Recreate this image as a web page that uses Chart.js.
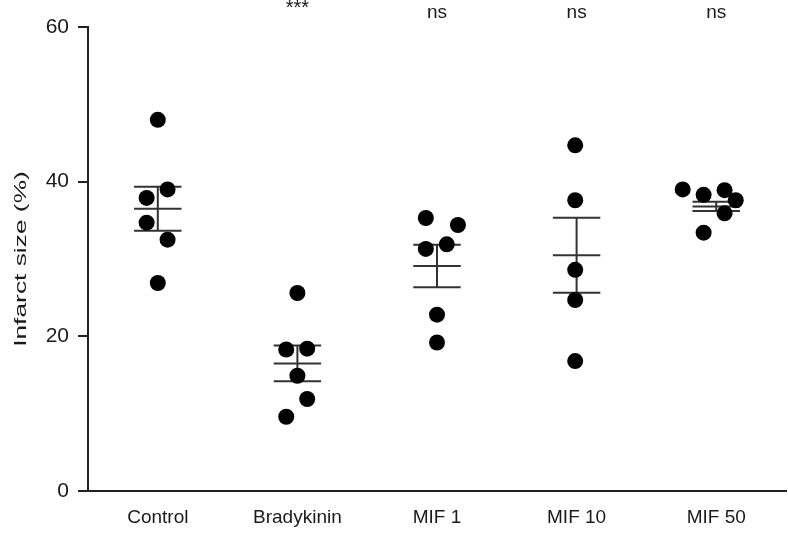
<!DOCTYPE html>
<html>
<head>
<meta charset="utf-8">
<script src="https://cdn.jsdelivr.net/npm/chart.js@4/dist/chart.umd.min.js"></script>
<style>
  html, body { margin: 0; padding: 0; background: #fff; }
  #c { display: block; }
</style>
</head>
<body>
<canvas id="c" width="788" height="539"></canvas>
<script>
// ---- Data ----
const categories = ['Control', 'Bradykinin', 'MIF 1', 'MIF 10', 'MIF 50'];
const controlVals    = [48.0, 39.0, 37.9, 34.7, 32.5, 26.9];
const bradykininVals = [25.6, 18.3, 18.4, 14.9, 11.9, 9.6];
const mif1Vals       = [35.3, 34.4, 31.3, 31.9, 22.8, 19.2];
const mif10Vals      = [44.7, 37.6, 28.6, 24.7, 16.8];
const mif50Vals      = [39.0, 38.3, 38.9, 37.6, 35.9, 33.4];
// horizontal scatter spread (in category units)
const controlJitter    = [0, 0.07, -0.08, -0.08, 0.07, 0];
const bradykininJitter = [0, -0.08, 0.07, 0, 0.07, -0.08];
const mif1Jitter       = [-0.08, 0.15, -0.08, 0.07, 0, 0];
const mif10Jitter      = [-0.01, -0.01, -0.01, -0.01, -0.01];
const mif50Jitter      = [-0.24, -0.09, 0.06, 0.14, 0.06, -0.09];
// group mean and SEM
const means = [36.5, 16.5, 29.1, 30.5, 36.8];
const sems  = [2.85, 2.3, 2.75, 4.85, 0.6];
// significance labels
const sigLabels = ['', '***', 'ns', 'ns', 'ns'];
const yTicks = [0, 20, 40, 60];
const yTitle = 'Infarct size (%)';

const FONT = "'Liberation Sans', Arial, sans-serif";
const groups = [
  [controlVals, controlJitter],
  [bradykininVals, bradykininJitter],
  [mif1Vals, mif1Jitter],
  [mif10Vals, mif10Jitter],
  [mif50Vals, mif50Jitter]
];

const datasets = groups.map(([vals, jit], gi) => ({
  label: categories[gi],
  data: vals.map((v, k) => ({ x: gi + jit[k], y: v })),
  pointRadius: 8,
  pointHoverRadius: 8,
  backgroundColor: '#000',
  borderColor: '#000',
  borderWidth: 0,
  showLine: false
}));

const errorBarPlugin = {
  id: 'errorBars',
  beforeDatasetsDraw(chart) {
    const { ctx, scales: { x, y } } = chart;
    const hw = 0.17;
    ctx.save();
    ctx.strokeStyle = '#333';
    ctx.lineWidth = 2;
    means.forEach((m, i) => {
      const xl = x.getPixelForValue(i - hw);
      const xr = x.getPixelForValue(i + hw);
      const xc = x.getPixelForValue(i);
      const ym = y.getPixelForValue(m);
      const yt = y.getPixelForValue(m + sems[i]);
      const yb = y.getPixelForValue(m - sems[i]);
      ctx.beginPath();
      ctx.moveTo(xl, ym); ctx.lineTo(xr, ym);
      ctx.moveTo(xl, yt); ctx.lineTo(xr, yt);
      ctx.moveTo(xl, yb); ctx.lineTo(xr, yb);
      ctx.moveTo(xc, yt); ctx.lineTo(xc, yb);
      ctx.stroke();
    });
    ctx.restore();
  }
};

const textPlugin = {
  id: 'extraText',
  afterDraw(chart) {
    const { ctx, scales: { x } } = chart;
    ctx.save();
    ctx.fillStyle = '#1a1a1a';
    ctx.textAlign = 'center';
    sigLabels.forEach((s, i) => {
      if (!s) return;
      const xc = x.getPixelForValue(i);
      if (s === 'ns') {
        ctx.font = '19px ' + FONT;
        ctx.textBaseline = 'middle';
        ctx.fillText(s, xc, 13);
      } else {
        ctx.font = '20px ' + FONT;
        ctx.textBaseline = 'alphabetic';
        ctx.fillText(s, xc, 14);
      }
    });
    // y-axis title (stretched along its length like the reference)
    ctx.translate(21, 259);
    ctx.rotate(-Math.PI / 2);
    ctx.scale(1.55, 1);
    ctx.font = '17px ' + FONT;
    ctx.textBaseline = 'middle';
    ctx.fillText(yTitle, 0, 0);
    ctx.restore();
  }
};

new Chart(document.getElementById('c'), {
  type: 'scatter',
  data: { datasets },
  options: {
    responsive: false,
    animation: false,
    devicePixelRatio: 1,
    layout: { autoPadding: false, padding: { top: 27, right: 2, left: 0, bottom: 0 } },
    plugins: {
      legend: { display: false },
      tooltip: { enabled: false }
    },
    scales: {
      x: {
        type: 'linear',
        min: -0.5,
        max: 4.5,
        afterBuildTicks: (s) => { s.ticks = categories.map((_, i) => ({ value: i })); },
        afterFit: (s) => { s.height = 48; },
        grid: { display: false, drawTicks: false },
        border: { display: true, color: '#222', width: 2 },
        ticks: {
          color: '#1a1a1a',
          font: { family: FONT, size: 19 },
          padding: 15,
          maxRotation: 0,
          autoSkip: false,
          callback: (v) => categories[Math.round(v)]
        }
      },
      y: {
        min: 0,
        max: 60,
        afterBuildTicks: (s) => { s.ticks = yTicks.map(v => ({ value: v })); },
        afterFit: (s) => { s.width = 88; },
        grid: { display: true, drawOnChartArea: false, drawTicks: true, tickLength: 10, color: '#222', lineWidth: 2 },
        border: { display: true, color: '#222', width: 2 },
        ticks: {
          color: '#1a1a1a',
          font: { family: FONT, size: 21 },
          padding: 9
        }
      }
    }
  },
  plugins: [errorBarPlugin, textPlugin]
});
</script>
</body>
</html>
